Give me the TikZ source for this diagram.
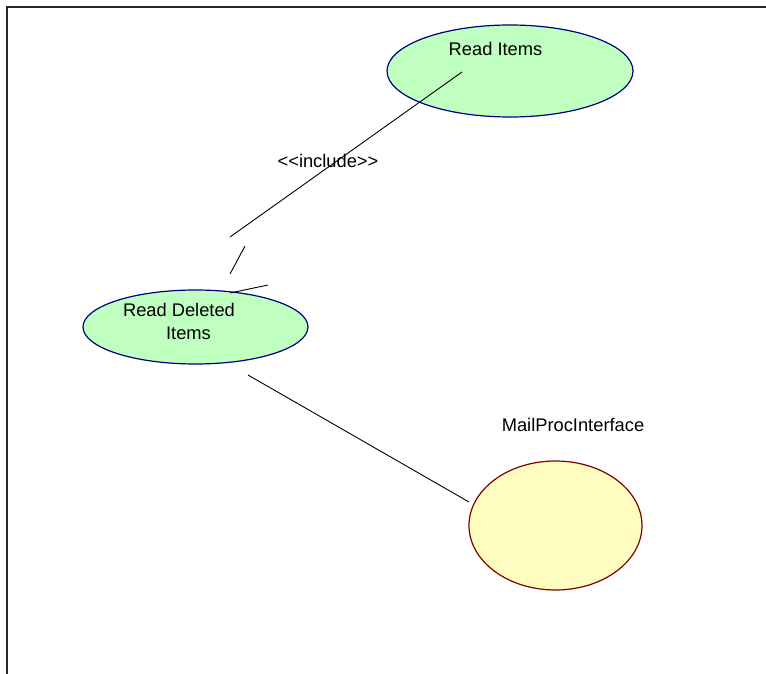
\documentclass[tikz,border=0pt]{standalone}
\usepackage{fontspec}
\setmainfont{Liberation Sans}
\begin{document}
\begin{tikzpicture}[x=1pt,y=-1pt,
  usecase/.style={draw=blue!50!black,fill=green!25!white,line width=1.2pt},
  iface/.style={draw=red!50!black,fill=yellow!25!white,line width=1.2pt},
  lbl/.style={font=\fontsize{18.3}{22}\selectfont,inner sep=0pt},
  conn/.style={line width=0.9pt}]
\useasboundingbox (0,0) rectangle (766,674);
% frame
\draw[line width=2.2pt,black!85] (7,674) -- (7,7) -- (766,7);
% use cases
\draw[usecase] (510,71) ellipse [x radius=123,y radius=46];
\draw[usecase] (195.5,327) ellipse [x radius=112.5,y radius=37];
\draw[iface] (555.5,525.5) ellipse [x radius=86.5,y radius=64.5];
% labels
\node[lbl] (ri) at (495.5,49) {Read Items};
\node[lbl] (rd1) at (179,310) {Read Deleted};
\node[lbl] (rd2) at (188.5,333) {Items};
\node[lbl] (mp) at (573,425) {MailProcInterface};
\node[lbl] (inc) at (328,161) {{<}{<}include{>}{>}};
% include dependency
\coordinate (a1) at (462,72);
\coordinate (a2) at (230,237);
\draw[conn] (a1) -- (a2);
\coordinate (h0) at (230,293);
\coordinate (h1) at (268,285);
\coordinate (h2) at (230,274);
\coordinate (h3) at (245,246);
\draw[conn] (h0) -- (h1);
\draw[conn] (h2) -- (h3);
% association
\coordinate (b1) at (248,375);
\coordinate (b2) at (469,502);
\draw[conn] (b1) -- (b2);
\end{tikzpicture}
\end{document}
